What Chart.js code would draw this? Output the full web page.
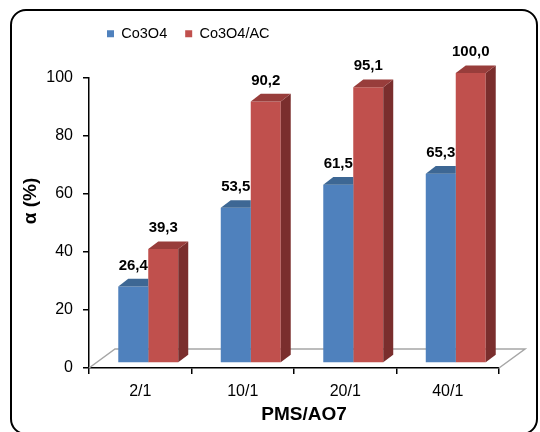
<!DOCTYPE html>
<html>
<head>
<meta charset="utf-8">
<script src="https://cdn.jsdelivr.net/npm/chart.js@4.4.1/dist/chart.umd.min.js"></script>
<style>
  html, body { margin: 0; padding: 0; background: #fff; }
  #marco { position: relative; width: 540px; height: 432px; overflow: hidden; }
  #marco canvas { position: absolute; left: 0; top: 0; }
  #borde {
    position: absolute; left: 10px; top: 9px; width: 528px; height: 426px;
    box-sizing: border-box; border: 2.5px solid #000; border-radius: 16px;
    pointer-events: none;
  }
</style>
</head>
<body>
<div id="marco">
  <canvas id="grafico" width="540" height="432"></canvas>
  <div id="borde"></div>
</div>
<script>
const categorias = ["2/1", "10/1", "20/1", "40/1"];
const co3o4 = [26.4, 53.5, 61.5, 65.3];
const co3o4AC = [39.3, 90.2, 95.1, 100.0];
const ticksY = [0, 20, 40, 60, 80, 100];

const FUENTE = '"Liberation Sans", Arial, sans-serif';

// profundidad de las barras y del piso
const PROF_X = 10, PROF_Y = -7.6;
const PISO_X = 26, PISO_Y = -19;
const DESPL_X = 8, DESPL_Y = -5;

function formato(v) {
    return v.toFixed(1).replace(".", ",");
}

// sube la leyenda sin quitar el espacio que reserva encima del grafico
const subirLeyenda = {
    id: "subirLeyenda",
    afterLayout(chart) {
        chart.legend.top -= 27;
        chart.legend.bottom -= 27;
    }
};

const efecto3D = {
    id: "efecto3D",
    beforeDatasetsDraw(chart) {
        const { ctx, chartArea: a } = chart;

        // piso en perspectiva
        ctx.save();
        ctx.strokeStyle = "#a6a6a6";
        ctx.lineWidth = 1.5;
        ctx.beginPath();
        ctx.moveTo(a.left, a.bottom);
        ctx.lineTo(a.left + PISO_X, a.bottom + PISO_Y);
        ctx.lineTo(a.right + PISO_X, a.bottom + PISO_Y);
        ctx.lineTo(a.right, a.bottom);
        ctx.stroke();
        ctx.restore();

        ctx.save();
        ctx.translate(DESPL_X, DESPL_Y);
    },
    afterDatasetsDraw(chart) {
        const ctx = chart.ctx;
        const metas = chart.data.datasets.map((d, i) => chart.getDatasetMeta(i));

        metas.forEach((meta, i) => {
            const ds = chart.data.datasets[i];
            meta.data.forEach((barra, j) => {
                const { x, y, base, width } = barra.getProps(["x", "y", "base", "width"], true);
                const x0 = x - width / 2, x1 = x + width / 2;

                ctx.save();
                // la barra de la derecha tapa las caras de esta
                const vecina = metas[i + 1] && metas[i + 1].data[j];
                if (vecina) {
                    const v = vecina.getProps(["x", "y", "base", "width"], true);
                    ctx.beginPath();
                    ctx.rect(-100, -100, chart.width + 200, chart.height + 200);
                    ctx.rect(v.x - v.width / 2, v.y, v.width, v.base - v.y);
                    ctx.clip("evenodd");
                }

                ctx.fillStyle = ds.caraLateral;
                ctx.beginPath();
                ctx.moveTo(x1, y);
                ctx.lineTo(x1 + PROF_X, y + PROF_Y);
                ctx.lineTo(x1 + PROF_X, base + PROF_Y);
                ctx.lineTo(x1, base);
                ctx.closePath();
                ctx.fill();

                ctx.fillStyle = ds.caraSuperior;
                ctx.beginPath();
                ctx.moveTo(x0, y);
                ctx.lineTo(x1, y);
                ctx.lineTo(x1 + PROF_X, y + PROF_Y);
                ctx.lineTo(x0 + PROF_X, y + PROF_Y);
                ctx.closePath();
                ctx.fill();
                ctx.restore();
            });
        });

        // etiquetas de valor
        ctx.font = "bold 15px " + FUENTE;
        ctx.fillStyle = "#000";
        ctx.textAlign = "center";
        ctx.textBaseline = "middle";
        metas.forEach((meta, i) => {
            const valores = chart.data.datasets[i].data;
            meta.data.forEach((barra, j) => {
                ctx.fillText(formato(valores[j]), barra.x, barra.y - 21);
            });
        });

        ctx.restore();
    },
    afterDraw(chart) {
        const { ctx, chartArea: a } = chart;
        ctx.save();
        ctx.font = "bold 19px " + FUENTE;
        ctx.fillStyle = "#000";
        ctx.textAlign = "center";
        ctx.textBaseline = "middle";
        ctx.fillText("PMS/AO7", (a.left + a.right) / 2 + 10, a.bottom + 47);

        ctx.translate(31, 201);
        ctx.rotate(-Math.PI / 2);
        ctx.fillText("α (%)", 0, 0);
        ctx.restore();
    }
};

Chart.defaults.font.family = FUENTE;
Chart.defaults.color = "#000";

new Chart(document.getElementById("grafico"), {
    type: "bar",
    data: {
        labels: categorias,
        datasets: [
            {
                label: "Co3O4",
                data: co3o4,
                backgroundColor: "#4f81bd",
                caraSuperior: "#3d6794",
                caraLateral: "#30527a"
            },
            {
                label: "Co3O4/AC",
                data: co3o4AC,
                backgroundColor: "#c0504d",
                caraSuperior: "#983d3b",
                caraLateral: "#7a2e2d"
            }
        ]
    },
    options: {
        responsive: false,
        animation: false,
        layout: {
            padding: { top: 35.5, left: 0, right: 41, bottom: 0 }
        },
        datasets: {
            bar: { categoryPercentage: 0.585, barPercentage: 1, borderWidth: 0 }
        },
        plugins: {
            tooltip: { enabled: false },
            legend: {
                position: "top",
                align: "start",
                fullSize: false,
                labels: {
                    boxWidth: 7,
                    boxHeight: 7,
                    padding: 18,
                    color: "#000",
                    font: { size: 14.5 }
                }
            }
        },
        scales: {
            x: {
                afterFit: s => { s.height = 64; },
                grid: { offset: true, drawOnChartArea: false, color: "#000", lineWidth: 1.5, tickLength: 6 },
                border: { color: "#000", width: 1.5 },
                ticks: { color: "#000", font: { size: 16 }, padding: 8 }
            },
            y: {
                min: 0,
                max: 100,
                afterBuildTicks: s => { s.ticks = ticksY.map(v => ({ value: v })); },
                afterFit: s => { s.width = 89; },
                grid: { drawOnChartArea: false, color: "#000", lineWidth: 1.5, tickLength: 6 },
                border: { color: "#000", width: 1.5 },
                ticks: { color: "#000", font: { size: 16 }, padding: 10 }
            }
        }
    },
    plugins: [subirLeyenda, efecto3D]
});
</script>
</body>
</html>
